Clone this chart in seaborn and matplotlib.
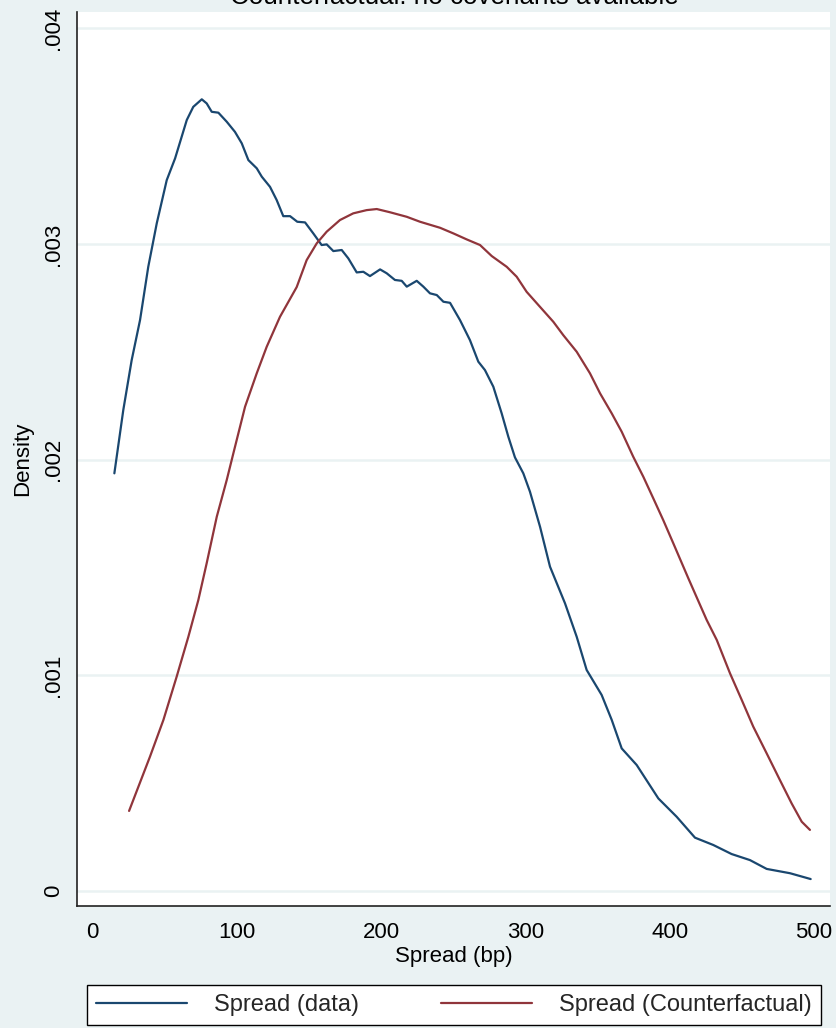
import pandas as pd
import matplotlib
matplotlib.use('Agg')
import matplotlib.pyplot as plt
import seaborn as sns

# --- data (density in units of 1e-3) ---
data_x = [15.0, 21.2, 27.0, 32.8, 38.5, 44.4, 51.3, 57.1, 65.2, 69.7, 75.6, 79.0,
          82.5, 87.1, 92.9, 98.6, 103.3, 107.9, 113.7, 117.2, 122.9, 127.5, 132.1,
          136.8, 141.8, 147.2, 152.9, 158.7, 162.2, 166.8, 172.6, 177.2, 183.0,
          187.6, 192.2, 199.2, 203.8, 209.5, 214.2, 217.7, 224.6, 229.2, 233.8,
          238.5, 243.1, 247.7, 254.6, 261.5, 267.3, 271.9, 277.7, 283.5, 288.1,
          292.7, 298.5, 303.1, 310.1, 317.0, 327.4, 335.5, 342.4, 352.8, 359.8,
          366.7, 377.1, 392.1, 404.8, 417.5, 430.2, 442.9, 455.6, 467.2, 483.4, 497.7]
data_y = [1.936, 2.230, 2.461, 2.647, 2.894, 3.096, 3.296, 3.397, 3.575, 3.636, 3.671, 3.652,
          3.613, 3.609, 3.567, 3.520, 3.467, 3.389, 3.351, 3.312, 3.265, 3.204, 3.129,
          3.129, 3.103, 3.100, 3.049, 2.995, 2.998, 2.967, 2.972, 2.933, 2.868,
          2.871, 2.851, 2.882, 2.864, 2.833, 2.829, 2.802, 2.829, 2.802, 2.771,
          2.763, 2.732, 2.727, 2.647, 2.554, 2.454, 2.415, 2.338, 2.214, 2.106,
          2.010, 1.936, 1.851, 1.688, 1.503, 1.333, 1.178, 1.024, 0.908, 0.792,
          0.660, 0.583, 0.428, 0.343, 0.246, 0.212, 0.170, 0.142, 0.101, 0.081, 0.054]

cf_x = [25.2, 39.7, 49.0, 58.2, 66.3, 73.2, 79.0, 86.0, 92.9, 97.5, 105.6, 113.7,
        120.6, 129.8, 141.4, 148.3, 155.3, 162.2, 171.4, 180.6, 189.9, 196.9, 206.1,
        217.7, 226.9, 240.8, 250.0, 259.3, 268.5, 276.6, 287.0, 293.9, 300.8, 308.9,
        319.3, 326.2, 335.5, 344.7, 351.7, 359.8, 366.7, 374.7, 381.7, 388.6, 395.5,
        402.5, 412.9, 417.5, 425.6, 432.6, 441.8, 449.9, 457.9, 467.2, 476.4, 484.5,
        491.5, 497.2]
cf_y = [0.370, 0.622, 0.792, 0.993, 1.178, 1.348, 1.519, 1.735, 1.905, 2.029, 2.245, 2.400,
        2.523, 2.662, 2.800, 2.925, 3.003, 3.057, 3.111, 3.142, 3.157, 3.162, 3.147,
        3.126, 3.103, 3.075, 3.049, 3.021, 2.995, 2.944, 2.894, 2.848, 2.778, 2.717,
        2.639, 2.577, 2.500, 2.400, 2.307, 2.214, 2.129, 2.013, 1.920, 1.820, 1.719,
        1.611, 1.449, 1.379, 1.256, 1.163, 1.008, 0.885, 0.761, 0.637, 0.513, 0.405,
        0.320, 0.282]

series_names = ['Spread (data)', 'Spread (Counterfactual)']
y_ticks = [0, 0.001, 0.002, 0.003, 0.004]
y_ticklabels = ['0', '.001', '.002', '.003', '.004']
x_ticks = [0, 100, 200, 300, 400, 500]

df = pd.concat([
    pd.DataFrame({'spread': data_x, 'density': [v / 1000 for v in data_y], 'series': series_names[0]}),
    pd.DataFrame({'spread': cf_x, 'density': [v / 1000 for v in cf_y], 'series': series_names[1]}),
])

# --- style ---
bg = '#EAF2F3'
sns.set_theme(style='white')
plt.rcParams['font.family'] = ['Liberation Sans', 'DejaVu Sans']

fig = plt.figure(figsize=(8.37, 10.28), dpi=100, facecolor=bg)
ax = fig.add_axes([77 / 837, 1 - 906 / 1028, (830 - 77) / 837, (906 - 12) / 1028])
ax.set_facecolor('white')

sns.lineplot(data=df, x='spread', y='density', hue='series', hue_order=series_names,
             palette=['#1A476F', '#90353B'], estimator=None, linewidth=1.6, ax=ax)

handles, labels = ax.get_legend_handles_labels()
ax.get_legend().remove()

ax.set_xlim(-10.9, 511.1)
ax.set_ylim(-0.000071, 0.004076)

ax.set_yticks(y_ticks)
ax.set_yticklabels(y_ticklabels, rotation=90, va='center')
ax.set_xticks(x_ticks)

# light horizontal grid
for y in y_ticks:
    ax.axhline(y, color=bg, lw=1.8, zorder=0)

for s in ['top', 'right']:
    ax.spines[s].set_visible(False)
for s in ['left', 'bottom']:
    ax.spines[s].set_color('#222222')
    ax.spines[s].set_linewidth(1.2)

ax.tick_params(axis='both', direction='out', length=6.5, width=1.0, color='#222222',
               labelsize=16, labelcolor='black')
ax.tick_params(axis='x', pad=5)
ax.tick_params(axis='y', pad=2.5)

ax.set_xlabel('Spread (bp)', fontsize=16, color='black')
ax.set_ylabel('Density', fontsize=16, color='black')
ax.xaxis.set_label_coords(0.5, (906 - 946) / 894)
ax.yaxis.set_label_coords((33.6 - 77) / 753, 0.5)

# title sits mostly above the top edge, as in the original
fig.text(454 / 837, 1 - 3.5 / 1028, 'Counterfactual: no covenants available',
         ha='center', va='baseline', fontsize=18.7, color='black')

leg = fig.legend(handles, labels, loc='center', ncol=2, mode='expand',
                 bbox_to_anchor=(87 / 837, 1 - 1027 / 1028, 734 / 837, 44 / 1028),
                 fontsize=17, frameon=True, fancybox=False, framealpha=1, borderaxespad=0,
                 handlelength=3.85, handletextpad=1.15, borderpad=0.38)
leg.get_frame().set_edgecolor('black')
leg.get_frame().set_linewidth(1.0)
leg.get_frame().set_facecolor('white')
for line in leg.get_lines():
    line.set_linewidth(1.6)

fig.savefig('out.png', dpi=100, facecolor=bg)
